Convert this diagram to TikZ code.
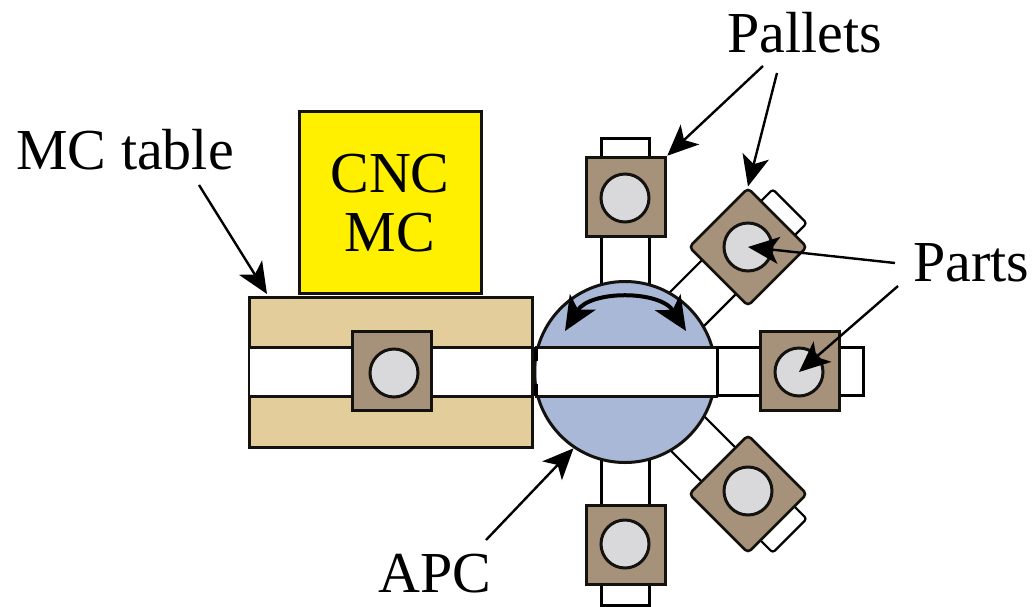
\documentclass[tikz,border=0pt]{standalone}
\usepackage{fontspec}
\setmainfont{Liberation Serif}
\usetikzlibrary{arrows.meta}
\definecolor{palletbrown}{HTML}{A6917A}
\definecolor{tablesand}{HTML}{E3CD9B}
\definecolor{apcblue}{HTML}{A9B8D6}
\definecolor{cncyellow}{HTML}{FFF000}
\definecolor{partgray}{HTML}{D9D9DB}
\definecolor{inkline}{HTML}{14120F}
\tikzset{
  callout/.style={draw=black,line width=2.4pt,-{Stealth[length=31pt,width=27pt,inset=8pt]}},
  turnhead/.style={line width=4pt,{Stealth[length=34pt,width=30pt,inset=9pt]}-{Stealth[length=34pt,width=30pt,inset=9pt]}},
  labeltext/.style={inner sep=0pt,anchor=base,font=\fontsize{58}{60}\selectfont},
  pallet/.style={draw=inkline,fill=palletbrown,inner sep=0pt},
  part/.style={draw=inkline,fill=partgray,circle,line width=3pt,minimum size=48pt,inner sep=0pt},
}
\begin{document}
\begin{tikzpicture}[x=1pt,y=-1pt]
  \useasboundingbox (0,0) rectangle (1034,606);
  % machine and table
  \node[draw=inkline,fill=cncyellow,line width=3pt,minimum width=182pt,minimum height=182pt,inner sep=0pt] (cnc) at (390.5,202) {};
  \node[draw=inkline,fill=tablesand,line width=3pt,minimum width=283pt,minimum height=150pt,inner sep=0pt] (table) at (390.5,372) {};
  \fill[white] (250,348) rectangle (531,395);
  \draw[inkline,line width=3pt] (table.west |- 0,347) -- (table.east |- 0,347);
  \draw[inkline,line width=3pt] (table.west |- 0,396) -- (table.east |- 0,396);
  % arms first, the changer goes over them
  \foreach \ang/\len/\lw/\rc in {-90/234/3/0,-45/233/2.2/3,0/238/3/0,45/233/2.2/3,90/233/3/0}{
    \begin{scope}[shift={(625,371)},rotate=\ang]
      \draw[black,fill=white,line width=\lw pt,rounded corners=\rc pt] (85,-24) -- (\len,-24) -- (\len,24) -- (85,24);
    \end{scope}
  }
  \node[draw=inkline,fill=apcblue,circle,line width=3pt,minimum size=181pt,inner sep=0pt] (apc) at (625,372) {};
  \fill[white] (537,346) rectangle (716,396);
  \draw[inkline,line width=3pt] (535,347) -- (718,347);
  \draw[inkline,line width=3pt] (535,396) -- (718,396);
  \draw[black,line width=3pt] (717,347) -- (717,396);
  \draw[black,line width=4pt] (535.5,347) -- (535.5,361);
  \draw[black,line width=4pt] (535.5,384) -- (535.5,396);
  % pallets with their parts
  \foreach \name/\cx/\cy/\rot/\lw/\rc/\ms/\px/\py in {tablepal/392/371/0/3.5/0/79/394/373,toppal/626/197/0/3.5/0/79/625/198,botpal/626/545/0/3.5/0/79/625/544,rightpal/800/371/0/3.5/0/79/799/372,uppal/748/247/45/2.6/4/83/748/247,lowpal/748/494/45/2.6/4/83/748/491}{
    \node[pallet,rotate=\rot,line width=\lw pt,rounded corners=\rc pt,minimum size=\ms pt] (\name) at (\cx,\cy) {};
    \node[part] (\name-part) at (\px,\py) {};
  }
  % turning direction of the changer
  \coordinate (turnleft) at (565,331);
  \coordinate (turnright) at (686,331);
  \draw[black,turnhead] (turnleft) .. controls (590,290) and (660,290) .. (turnright);
  % labels
  \node[labeltext] (cnctop) at (390,192) {CNC};
  \node[labeltext] (cncbot) at (390,251) {MC};
  \node[labeltext] (tablelabel) at (125,169) {MC table};
  \node[labeltext] (palletslabel) at (805,52) {Pallets};
  \node[labeltext] (partslabel) at (971,281) {Parts};
  \node[labeltext] (apclabel) at (435,592) {APC};
  % callouts
  \coordinate (tablefrom) at (199,185);
  \coordinate (tabletip) at (267,294);
  \coordinate (topfrom) at (763,66);
  \coordinate (upfrom) at (777,73);
  \coordinate (partsfrom) at (895,263);
  \coordinate (rightfrom) at (898,286);
  \coordinate (apcfrom) at (486,540);
  \draw[callout] (tablefrom) -- (tabletip);
  \draw[callout] (topfrom) -- (toppal.north east);
  \draw[callout] (upfrom) -- (uppal.north east);
  \draw[callout] (partsfrom) -- (uppal-part.center);
  \draw[callout] (rightfrom) -- (rightpal-part.center);
  \draw[callout] (apcfrom) -- (apc.236);
\end{tikzpicture}
\end{document}
